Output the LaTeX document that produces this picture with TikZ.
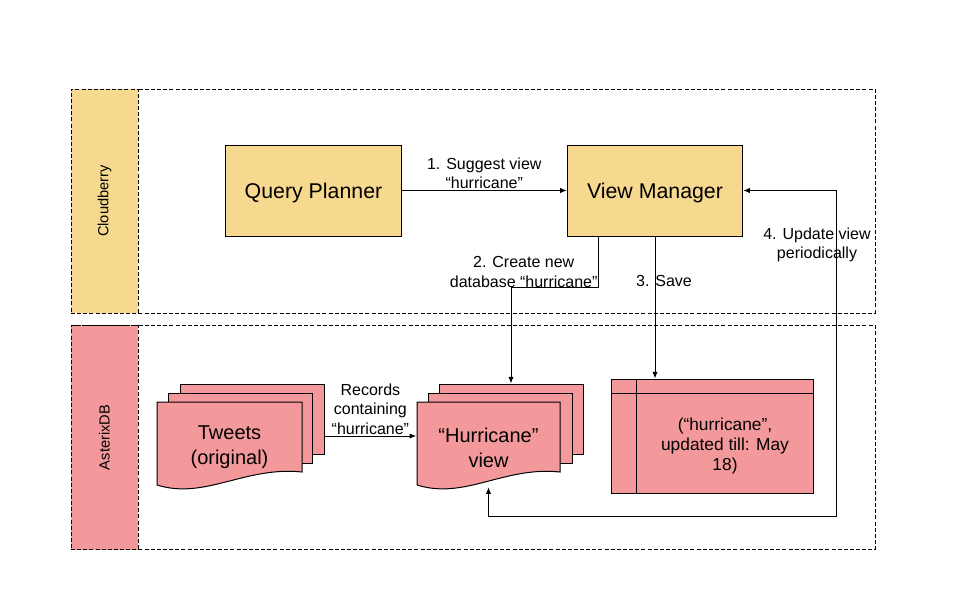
\documentclass[tikz,border=0pt]{standalone}
\usepackage{graphicx}
\usepackage{fontspec}
\setmainfont{Liberation Sans}
\usepackage{tikz}
\usetikzlibrary{positioning, arrows.meta, calc}

\definecolor{cbyel}{RGB}{246,217,142}
\definecolor{axpink}{RGB}{244,153,155}

\begin{document}
\begin{tikzpicture}[x=0.75pt, y=-0.75pt,
      lane/.style={draw, dash pattern=on 3pt off 1.6pt, line width=0.75pt, minimum width=603pt, minimum height=168pt},
      lanelbl/.style={draw, dash pattern=on 3pt off 1.6pt, line width=0.75pt, minimum width=50.25pt, minimum height=168pt, font=\fontsize{11}{13}\selectfont},
      blk/.style={draw, line width=0.75pt, fill=cbyel, minimum width=131.5pt, minimum height=68.25pt, text height=12.5pt, text depth=0pt, font=\fontsize{16}{19}\selectfont},
      sheet/.style={draw, line width=0.75pt, fill=axpink, minimum width=108pt, minimum height=52.5pt},
      docf/.style={draw, line width=0.75pt, fill=axpink},
      doct/.style={minimum width=108pt, minimum height=59.25pt, align=center, font=\fontsize{15}{18.75}\selectfont},
      tbl/.style={draw, line width=0.75pt, fill=axpink, minimum width=151.5pt, minimum height=85.5pt},
      lbl/.style={align=center, font=\fontsize{12}{14.5}\selectfont, inner sep=1pt},
      arr/.style={-{Latex[length=5pt, width=4pt]}, line width=0.75pt},
      arr2/.style={{Latex[length=5pt, width=4pt]}-{Latex[length=5pt, width=4pt]}, line width=0.75pt}]
      \useasboundingbox (0,0) rectangle (960,615);
      % lanes
      \node[lane] (cb) at (473,201) {};
      \node[lanelbl, fill=cbyel] (cbl) at (104.5,201) {\rotatebox{90}{Cloudberry}};
      \node[lane] (ax) at (473,437.5) {};
      \node[lanelbl, fill=axpink] (axl) at (104.5,437.5) {\rotatebox{90}{AsterixDB}};
      % cloudberry side
      \node[blk] (qp) at (313.5,190.5) {Query Planner};
      \node[blk] (vm) at (655,190.5) {View Manager};
      % asterixdb side
      \node[sheet] (tw3) at (252,419) {};
      \node[sheet] (tw2) at (240,428) {};
      \draw[docf] (157,402) -| (302,472) .. controls (245,466) and (205,500) .. (157,485) -- cycle;
      \node[doct] (tw) at (229.5,447.5) {Tweets\\(original)};
      \node[sheet] (hv3) at (511,419) {};
      \node[sheet] (hv2) at (500,428) {};
      \draw[docf] (417,402) -| (560,472) .. controls (504,466) and (465,500) .. (417,485) -- cycle;
      \node[doct] (hv) at (488.5,447.5) {“Hurricane”\\view};
      \node[tbl] (tb) at (712,436) {};
      \draw[line width=0.75pt] ($(tb.north west)+(26,0)$) -- ($(tb.south west)+(26,0)$);
      \draw[line width=0.75pt] ($(tb.north west)+(0,15)$) -- ($(tb.north east)+(0,15)$);
      \node[align=center, font=\fontsize{13}{15}\selectfont] (tbt) at (725,446.5) {(“hurricane”,\\updated till: May\\18)};
      % connectors
      \coordinate (bend2) at (511,287);
      \coordinate (fb) at (836,516);
      \coordinate (rec) at ($(tw3.east)+(0,17)$);
      \draw[arr] (qp) -- node[lbl, above] {1. Suggest view\\“hurricane”} (vm);
      \draw[arr] ([xshift=-42.75pt]vm.south) |- node[lbl, anchor=east, inner sep=0pt, pos=0.35] {2. Create new\\database “hurricane”} (bend2) -- (hv3.north);
      \draw[arr] (vm.south) -- node[lbl, pos=0.315, xshift=6.75pt] {3. Save} (vm.south |- tb.north);
      \draw[arr2] (vm.east) -| node[lbl, pos=0.583, xshift=-14.25pt] {4. Update view\\periodically} (fb) -| (hv.south);
      \draw[arr] (rec) -- node[lbl, above] {Records\\containing\\“hurricane”} (rec -| hv.west);
    \end{tikzpicture}
\end{document}
